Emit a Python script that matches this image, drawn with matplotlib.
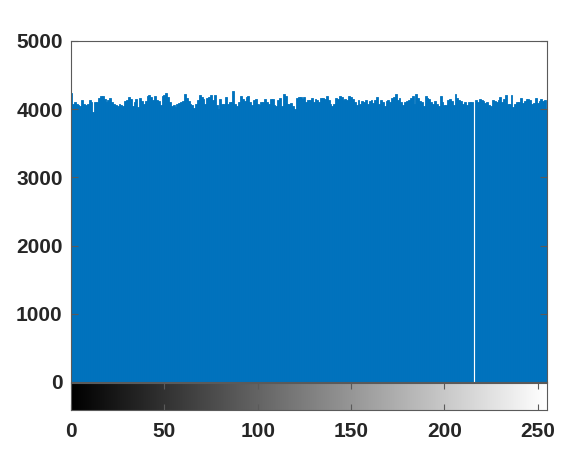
import matplotlib.pyplot as plt
import numpy as np

# histogram counts for gray levels 0..255
counts = [
    4240, 4070, 4110, 4080, 4060, 4050, 4130, 4070, 4060, 4080,
    4140, 4100, 3960, 4110, 4100, 4170, 4200, 4190, 4150, 4110,
    4130, 4160, 4110, 4080, 4060, 4040, 4070, 4060, 4040, 4120,
    4130, 4180, 4150, 4040, 4110, 4150, 4030, 4160, 4120, 4080,
    4120, 4190, 4210, 4180, 4130, 4190, 4130, 4120, 4060, 4190,
    4210, 4240, 4180, 4110, 4040, 4060, 4030, 4080, 4090, 4110,
    4120, 4220, 4170, 4120, 4070, 4060, 4020, 4080, 4130, 4210,
    4180, 4150, 4080, 4170, 4180, 4210, 4130, 4210, 4060, 4010,
    4150, 4070, 4080, 4180, 4070, 4100, 4110, 4260, 4080, 4050,
    4100, 4200, 4150, 4120, 4180, 4190, 4100, 4060, 4130, 4150,
    4070, 4060, 4100, 4110, 4150, 4100, 4080, 4150, 4150, 4060,
    4050, 4140, 4160, 4050, 4220, 4200, 4080, 4070, 4090, 4040,
    4000, 4170, 4180, 4180, 4150, 4180, 4110, 4140, 4130, 4170,
    4110, 4150, 4140, 4110, 4160, 4170, 4150, 4190, 4140, 4070,
    4050, 4080, 4170, 4150, 4190, 4180, 4130, 4150, 4140, 4190,
    4180, 4150, 4100, 4060, 4130, 4080, 4120, 4100, 4140, 4080,
    4120, 4140, 4090, 4140, 4180, 4070, 4130, 4110, 4050, 4120,
    4140, 4110, 4160, 4180, 4220, 4140, 4160, 4100, 4060, 4110,
    4120, 4140, 4170, 4200, 4080, 4230, 4160, 4120, 4110, 4050,
    4190, 4170, 4150, 4100, 4070, 4120, 4080, 4050, 4190, 4100,
    4060, 4060, 4140, 4150, 4120, 4060, 4220, 4170, 4130, 4120,
    4080, 4100, 4060, 4110, 4100, 4100, 0, 4130, 4110, 4150,
    4140, 4120, 4090, 4110, 4060, 4040, 4140, 4120, 4110, 4140,
    4180, 4110, 4150, 4210, 4080, 4080, 4210, 4030, 4080, 4110,
    4100, 4170, 4090, 4120, 4150, 4150, 4130, 4080, 4090, 4160,
    4090, 4120, 4150, 4120, 4130, 4000,
]
levels = np.arange(len(counts))
yticks = [0, 1000, 2000, 3000, 4000, 5000]
xticks = [0, 50, 100, 150, 200, 250]

plt.rcParams['font.family'] = ['Liberation Sans', 'DejaVu Sans']
plt.rcParams['font.weight'] = 'bold'
plt.rcParams['font.size'] = 15
edge = '#5a5a5a'

fig = plt.figure(figsize=(5.65, 4.59), dpi=100)
ax = fig.add_axes([0.1257, 0.1678, 0.8424, 0.7429])
ax.bar(levels, counts, width=1.0, color='#0072BD', edgecolor='#0072BD',
       linewidth=0.6)
ax.set_xlim(0, 255)
ax.set_ylim(0, 5000)
ax.set_yticks(yticks)
ax.set_yticklabels([str(t) for t in yticks], fontweight='bold', color='#262626')
ax.set_xticks([])
ax.tick_params(axis='y', direction='in', length=5, pad=6, color=edge,
               right=True)
for s in ax.spines.values():
    s.set_color(edge)
    s.set_linewidth(0.8)

# gray-level color strip under the histogram
cax = fig.add_axes([0.1257, 0.1068, 0.8424, 0.0588])
grad = np.linspace(0, 1, 256).reshape(1, -1)
cax.imshow(grad, cmap='gray', aspect='auto', extent=[0, 255, 0, 1],
           vmin=0, vmax=1)
cax.set_xlim(0, 255)
cax.set_yticks([])
cax.set_xticks(xticks)
cax.set_xticklabels([str(t) for t in xticks], fontweight='bold', color='#262626')
cax.tick_params(axis='x', direction='in', length=4, pad=9, color=edge,
                top=True)
for s in cax.spines.values():
    s.set_color(edge)
    s.set_linewidth(0.8)

fig.savefig('out.png', dpi=100, facecolor='white')
